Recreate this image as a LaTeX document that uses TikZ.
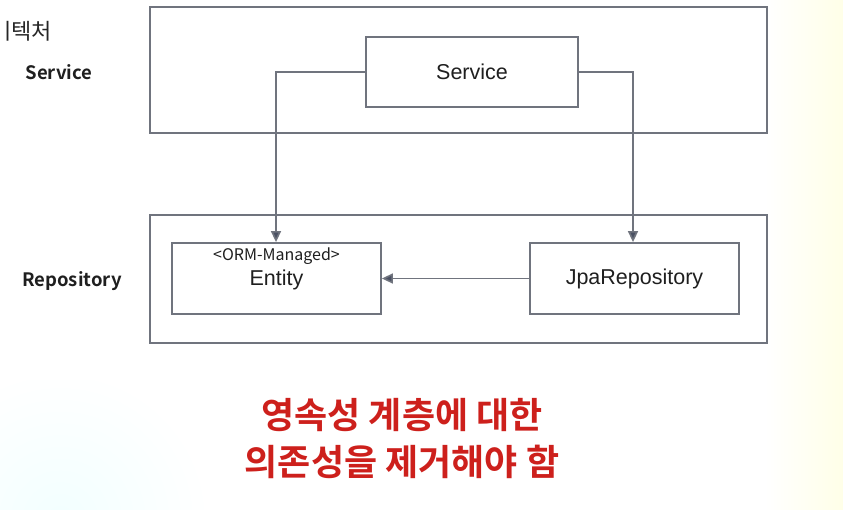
\documentclass[tikz,border=0pt]{standalone}
\usepackage{fontspec}
\setmainfont{Liberation Sans}
\newfontfamily\kofont{Noto Sans CJK KR}[BoldFont={Noto Sans CJK KR Bold}]
\usetikzlibrary{arrows.meta}
\definecolor{boxline}{RGB}{112,116,126}
\definecolor{arrowcol}{RGB}{74,80,98}
\definecolor{redtxt}{RGB}{205,32,28}
\begin{document}
\begin{tikzpicture}[x=1pt,y=-1pt,
  outerbox/.style={draw=boxline,line width=1.8pt},
  innerbox/.style={draw=boxline,line width=1.8pt,fill=white},
  conn/.style={draw=boxline,line width=1.6pt,-{Triangle[length=11pt,width=10pt,fill=arrowcol]}},
  lbl/.style={font=\kofont\bfseries\fontsize{18.5}{20}\selectfont,text=black!88},
  boxtxt/.style={font=\fontsize{21.5}{24}\selectfont,text=black!88},
  redline/.style={font=\kofont\bfseries\fontsize{36}{40}\selectfont,text=redtxt}]
\useasboundingbox (0,0) rectangle (843,509);
\fill[white] (0,0) rectangle (843,509);
\shade[left color=white,right color=yellow!9] (765,0) rectangle (843,509);
\shade[inner color=cyan!5,outer color=white] (60,520) circle[radius=150];
\fill[white] (0,0) rectangle (843,380);
\shade[left color=white,right color=yellow!9] (765,0) rectangle (843,380);
% outer boxes
\draw[outerbox] (150,7) rectangle (767,133);
\draw[outerbox] (150,215) rectangle (767,343);
% inner nodes
\node[innerbox,minimum width=212pt,minimum height=70pt,boxtxt] (svc) at (472,72) {Service};
\node[innerbox,minimum width=209pt,minimum height=71pt] (ent) at (276.5,278.5) {};
\node[font=\kofont\fontsize{16}{18}\selectfont,text=black!88] (entst) at (276.5,256) {<ORM-Managed>};
\node[boxtxt] (entt) at (276.5,280) {Entity};
\node[innerbox,minimum width=209pt,minimum height=71pt,boxtxt] (jpa) at (634.5,278.5) {JpaRepository};
% labels
\node[lbl] (lsvc) at (59,72) {Service};
\node[lbl] (lrep) at (72,281) {Repository};
\begin{scope}
\clip (5,0) rectangle (80,60);
\node[font=\kofont\fontsize{22}{24}\selectfont,anchor=east,inner sep=0pt,text=black!85] (arch) at (52,31) {아키텍처};
\end{scope}
% connectors
\coordinate (c1) at (276,72);
\coordinate (c2) at (633,72);
\draw[conn] (svc.west) -- (c1) -- (c1 |- ent.north);
\draw[conn] (svc.east) -- (c2) -- (c2 |- jpa.north);
\draw[conn] (jpa.west) -- (ent.east);
% red text
\node[redline] (r1) at (402,415) {영속성 계층에 대한};
\node[redline] (r2) at (402,462) {의존성을 제거해야 함};
\end{tikzpicture}
\end{document}
